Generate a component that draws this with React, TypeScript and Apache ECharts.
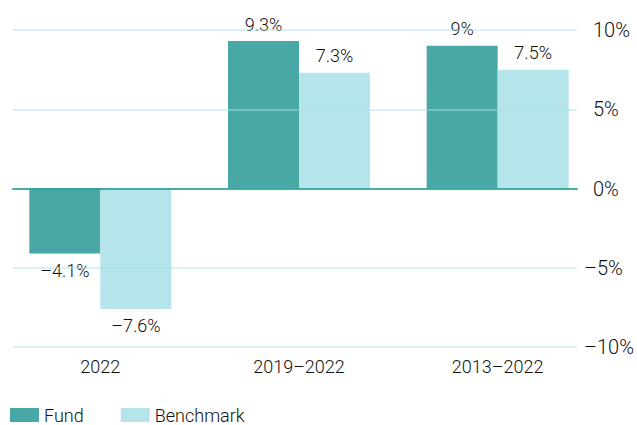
import React, { useEffect, useRef } from "react";
import * as echarts from "echarts";

const categories = ["2022", "2019–2022", "2013–2022"];
const fund = [-4.1, 9.3, 9];
const benchmark = [-7.6, 7.3, 7.5];
const yTicks = [-10, -5, 0, 5, 10];

const FONT = "Roboto";
const TEXT = "#111";

function pct(v: number): string {
  return (v < 0 ? "–" + Math.abs(v) : String(v)) + "%";
}

export default function App() {
  const ref = useRef<HTMLDivElement>(null);
  useEffect(() => {
    if (!ref.current) return;
    const chart = echarts.init(ref.current, null, { renderer: "svg" });
    const labelCommon = {
      show: true,
      distance: 8,
      fontFamily: FONT,
      fontWeight: 300,
      fontSize: 18,
      color: TEXT,
      formatter: (p: any) => pct(p.value),
    };
    const mk = (arr: number[]) =>
      arr.map((v) => ({ value: v, label: { position: v < 0 ? "bottom" : "top" } }));
    chart.setOption({
      animation: false,
      grid: [
        { left: 1, right: 40, top: 30, bottom: 78 },
        { left: 13, right: 54, top: 30, bottom: 78 },
      ],
      legend: {
        left: 10,
        top: 406,
        padding: 0,
        icon: "rect",
        itemWidth: 29,
        itemHeight: 14,
        itemGap: 37,
        textStyle: { fontFamily: FONT, fontWeight: 300, fontSize: 18, color: TEXT },
        data: ["Fund", "Benchmark"],
      },
      xAxis: [
        {
          type: "category",
          gridIndex: 0,
          data: categories,
          position: "bottom",
          axisLine: { show: false, onZero: false },
          axisTick: { show: false },
          axisLabel: {
            margin: 10,
            fontFamily: FONT,
            fontWeight: 300,
            fontSize: 18,
            color: TEXT,
          },
        },
        {
          type: "category",
          gridIndex: 1,
          data: categories,
          z: 5,
          axisLine: { show: true, onZero: true, lineStyle: { color: "rgba(20,150,148,0.75)", width: 2 } },
          axisTick: { show: false },
          axisLabel: { show: false },
        },
      ],
      yAxis: [
        {
          type: "value",
          gridIndex: 0,
          min: -10,
          max: 10,
          interval: 5,
          show: false,
          splitLine: { show: false },
        },
        {
          type: "value",
          gridIndex: 1,
          position: "right",
          min: yTicks[0],
          max: yTicks[yTicks.length - 1],
          interval: 5,
          z: 4,
          axisLine: { show: false },
          axisTick: { show: false },
          splitLine: { show: true, lineStyle: { color: "rgba(170,225,232,0.45)", width: 2 } },
          axisLabel: {
            margin: 7,
            align: "left",
            formatter: (v: number) => (v < 0 ? `{n|${pct(v)}}` : `{p|${pct(v)}}`),
            rich: {
              p: { fontFamily: FONT, fontWeight: 300, fontSize: 20, color: TEXT, padding: [0, 0, 0, 9] },
              n: { fontFamily: FONT, fontWeight: 300, fontSize: 20, color: TEXT },
            },
          },
        },
      ],
      series: [
        {
          name: "Fund",
          type: "bar",
          xAxisIndex: 0,
          yAxisIndex: 0,
          data: mk(fund),
          barWidth: 71,
          barGap: "0%",
          itemStyle: { color: "#47a8a6" },
          label: { ...labelCommon, position: "top" },
        },
        {
          name: "Benchmark",
          type: "bar",
          xAxisIndex: 0,
          yAxisIndex: 0,
          data: mk(benchmark),
          barWidth: 71,
          barGap: "0%",
          itemStyle: { color: "#b5e4ea" },
          label: { ...labelCommon, position: "top" },
        },
      ],
    });
    return () => chart.dispose();
  }, []);
  return <div ref={ref} style={{ width: 637, height: 425, position: "absolute", left: 0, top: 0 }} />;
}
